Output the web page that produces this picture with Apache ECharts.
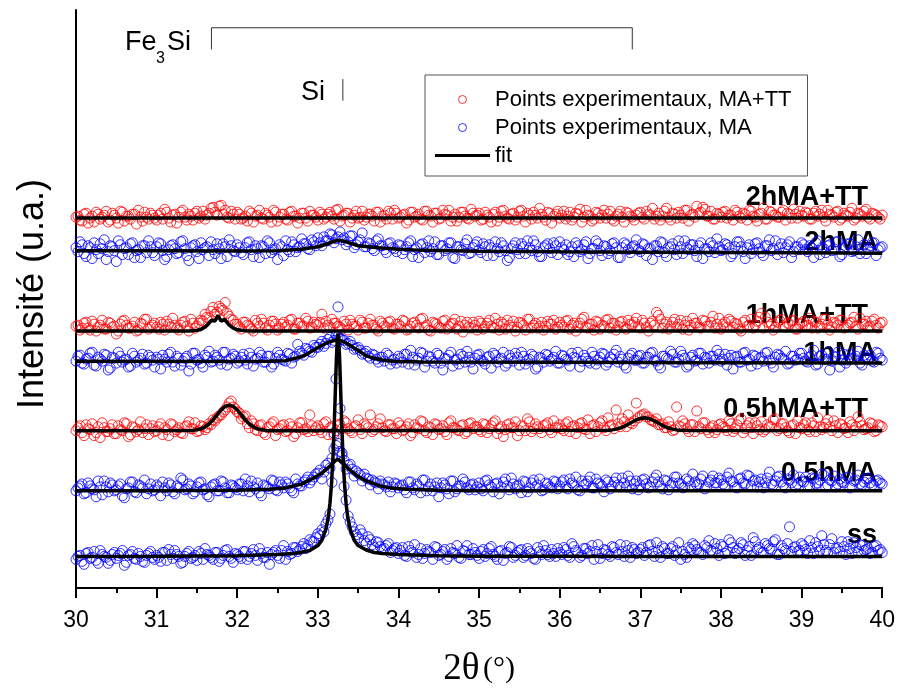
<!DOCTYPE html>
<html><head><meta charset="utf-8">
<script src="https://cdn.jsdelivr.net/npm/echarts@6/dist/echarts.min.js"></script>
<style>html,body{margin:0;padding:0;background:#fff}#c{width:898px;height:693px}</style>
</head><body><div id="c"></div>
<script>
// measurement grid (2theta, degrees): set A at 30.000 + 0.05 k, set B at 30.025 + 0.05 k
const thetaStartA = 30, thetaStartB = 30.025, thetaStep = 0.05;

// experimental points (arbitrary intensity units)
const pts2hTT_A = [24,21,27,18,25,29,22,26,19,28,23,30,20,25,27,17,24,29,22,26,
 21,28,32,23,26,18,29,24,27,21,30,25,22,28,34,26,36,31,23,27,
 29,22,25,30,19,26,23,28,24,31,20,27,22,29,25,18,28,23,30,26,
 21,27,24,29,22,32,25,28,19,26,23,30,24,27,20,29,25,22,28,31,
 23,26,18,29,24,27,21,30,25,28,22,31,26,20,27,24,29,23,32,25,
 28,22,26,19,29,24,31,23,27,21,30,25,28,22,26,33,24,29,18,27,
 23,30,25,21,28,32,24,26,20,29,23,31,27,22,25,30,19,28,24,26,
 29,22,27,33,25,21,30,24,28,23,26,31,20,27,35,29,32,25,22,28,
 24,30,26,21,29,23,27,31,25,20,28,22,30,26,24,29,21,27,32,23,
 26,29,22,28,25,31,20,27,24,30,23,26,29,21,28,25,32,22,27,24,26];
const pts2hTT_B = [25,20,28,23,19,27,24,30,21,26,18,29,25,22,27,31,20,24,28,23,
 26,22,29,19,27,24,31,21,25,28,23,30,26,33,29,35,27,24,30,22,
 27,23,20,28,25,31,22,26,19,29,24,27,21,30,25,23,28,20,26,24,
 29,22,27,25,31,20,26,28,23,30,24,21,27,25,29,19,26,30,22,28,
 24,27,21,29,25,22,30,26,19,28,23,27,31,24,20,29,25,22,28,26,
 21,29,24,27,20,30,25,22,28,24,31,19,26,29,23,27,21,28,25,30,
 26,22,29,24,27,19,31,25,22,28,26,23,30,20,27,24,29,25,21,28,
 24,30,26,22,28,25,33,21,27,29,23,31,26,24,28,34,25,30,22,27,
 29,23,26,31,25,28,21,30,24,27,33,22,29,26,24,31,28,23,27,30,
 25,28,22,30,27,24,31,26,29,21,28,25,33,23,27,30,24,28,26,22];
const pts2h_A = [28,34,22,30,17,26,32,36,24,29,14,31,27,21,33,25,18,30,35,23,
 29,32,16,26,31,22,34,27,15,30,24,33,28,20,26,32,17,29,36,25,
 31,23,28,34,19,27,30,22,33,26,16,29,35,24,31,28,37,32,26,34,
 38,30,35,42,33,39,36,31,40,28,34,43,29,32,25,37,30,23,33,27,
 31,22,29,35,26,18,32,28,24,34,21,30,27,33,17,29,25,36,23,31,
 26,32,20,28,34,24,30,15,27,33,22,29,35,25,31,19,28,32,23,30,
 34,26,21,29,33,24,31,17,27,35,25,30,22,32,28,18,33,26,29,36,
 24,31,27,16,30,34,23,28,32,21,29,35,26,31,19,33,27,24,30,37,
 25,32,28,22,34,29,17,31,26,33,23,30,36,27,21,32,28,34,24,29,
 33,26,30,18,35,28,23,31,27,34,21,29,32,25,36,28,22,30,33,26,29];
const pts2h_B = [24,31,19,28,33,22,27,16,30,25,35,21,28,32,18,26,30,23,29,20,
 33,25,19,30,27,23,35,20,28,31,17,26,29,34,22,27,32,19,30,24,
 28,21,33,26,30,18,29,35,23,27,31,20,26,34,24,29,32,27,36,30,
 33,39,35,41,37,44,38,34,40,31,36,29,33,27,35,30,26,32,28,24,
 30,26,33,19,28,31,23,35,27,21,30,25,33,18,29,26,32,22,28,34,
 23,29,31,20,27,33,25,18,30,26,32,22,28,35,24,19,30,27,33,21,
 28,31,24,19,30,26,34,22,27,32,20,29,25,33,18,28,31,23,30,26,
 32,20,27,30,24,33,19,29,26,35,22,28,31,25,30,17,27,33,23,29,
 26,31,19,29,34,24,28,22,32,27,20,30,25,35,28,23,31,18,29,26,
 31,24,28,33,21,27,30,25,34,19,28,32,24,29,22,31,26,33,20,28];
const pts1hTT_A = [26,22,29,24,31,21,27,23,30,25,18,28,32,24,26,21,29,33,23,27,
 25,30,22,28,34,24,27,31,21,29,26,32,38,34,45,40,44,50,36,32,
 28,23,30,26,21,29,33,24,27,31,22,28,25,32,23,29,26,34,24,30,
 27,38,31,25,29,26,23,28,32,26,22,30,24,33,27,21,29,25,31,23,
 28,32,22,26,30,24,34,27,21,29,25,31,23,28,33,26,20,30,24,27,
 31,23,29,26,34,22,28,32,25,21,30,27,33,24,29,26,22,31,28,23,
 30,25,32,27,21,29,35,24,28,31,23,26,33,29,22,30,25,32,27,34,
 24,29,21,31,40,33,28,23,30,25,32,27,22,34,29,24,31,26,36,28,
 23,30,33,25,28,21,32,27,24,31,39,35,26,22,30,33,25,28,32,23,
 29,26,34,31,24,28,33,22,30,27,32,25,29,35,23,28,31,26,33,24,30];
const pts1hTT_B = [27,24,30,22,28,25,32,23,29,26,21,31,27,24,30,22,28,33,25,29,
 23,28,31,25,27,22,30,26,33,24,29,31,35,41,38,46,42,39,33,28,
 25,30,27,23,32,26,29,22,31,28,24,30,27,33,23,29,26,31,25,28,
 30,24,27,33,29,25,31,22,28,26,32,24,29,27,23,31,26,30,24,28,
 26,31,23,29,27,33,25,22,30,28,24,32,26,29,23,31,27,25,30,22,
 29,26,32,24,28,30,23,27,31,25,29,22,33,27,24,30,26,28,32,25,
 27,31,23,29,26,33,25,28,22,30,27,32,24,29,26,31,23,28,30,26,
 32,25,29,27,37,24,30,26,33,28,23,31,27,29,25,32,26,30,24,34,
 28,25,31,29,23,30,26,33,27,35,24,30,28,25,32,26,29,31,23,28,
 31,27,24,30,26,33,28,25,29,32,24,27,30,26,34,28,25,31,27,29];
const pts1h_A = [25,31,22,28,34,20,27,32,16,29,23,30,26,19,33,24,28,22,31,26,
 29,17,27,32,24,30,21,28,15,33,26,23,31,35,25,29,22,34,27,32,
 23,29,26,33,20,28,31,24,30,22,34,27,25,32,29,42,33,38,35,41,
 39,45,43,49,46,50,47,42,45,37,39,32,35,28,31,24,29,33,22,27,
 30,24,32,36,21,28,33,25,29,23,31,16,27,34,26,22,30,35,24,28,
 32,25,29,18,31,27,34,23,28,33,21,30,26,32,17,29,24,31,27,35,
 23,30,26,33,28,19,31,25,34,22,29,32,24,27,36,30,21,28,33,26,
 31,23,29,34,25,18,30,27,32,24,35,28,21,31,26,33,29,23,30,36,
 25,32,28,17,30,24,34,27,31,22,29,33,26,19,32,28,35,23,30,27,
 33,25,29,36,22,31,27,16,30,34,26,23,32,28,35,21,29,31,24,33,26];
const pts1h_B = [30,23,27,33,21,29,25,31,18,28,34,24,27,20,30,26,32,23,29,19,
 27,31,24,34,20,28,25,30,22,33,27,19,29,24,31,26,34,21,28,30,
 25,32,22,29,27,34,24,30,19,28,31,26,33,23,30,35,31,37,34,39,
 42,40,47,44,51,48,46,43,41,38,36,33,30,32,27,29,25,31,26,23,
 28,32,22,29,26,34,19,30,25,33,23,28,31,20,27,32,24,29,17,31,
 26,22,30,33,24,28,20,31,25,29,34,22,27,30,19,28,32,25,29,23,
 31,27,20,29,34,25,28,23,30,26,33,21,29,32,24,27,18,31,26,30,
 23,29,33,26,21,30,28,35,24,27,31,19,29,25,33,22,28,30,26,32,
 27,21,31,29,24,33,26,20,30,28,25,34,23,29,31,27,22,30,26,33,
 28,24,31,21,30,27,34,25,29,19,32,26,28,30,23,31,27,25,34,28];
const pts05TT_A = [23,28,18,25,30,21,16,26,22,29,20,24,31,17,27,22,32,25,19,28,
 23,30,26,18,29,24,21,27,32,25,22,28,24,30,34,36,39,44,51,47,
 42,35,38,26,30,23,29,19,27,32,24,28,22,30,17,26,31,25,39,23,
 28,21,32,26,18,29,25,31,23,27,34,20,28,39,24,30,26,22,29,25,
 31,23,27,18,29,25,32,21,26,30,24,28,19,33,26,23,29,22,31,27,
 24,30,21,28,33,25,17,29,26,32,23,27,35,22,30,25,28,31,21,26,
 29,23,32,27,20,30,25,34,28,22,31,26,36,29,44,27,32,39,30,51,
 38,40,37,33,35,29,26,32,23,47,27,30,22,29,43,25,31,21,28,24,
 30,26,33,22,29,35,25,31,20,28,32,24,27,34,23,30,26,21,29,33,
 25,31,22,28,36,24,30,27,33,21,29,26,32,23,37,28,25,31,22,29,27];
const pts05TT_B = [26,21,29,24,18,27,31,22,25,20,28,23,30,19,26,24,21,29,25,22,
 27,19,24,30,22,26,20,28,25,31,23,27,26,29,33,38,42,47,53,45,
 41,37,30,33,24,28,21,26,30,18,25,29,23,27,20,31,24,22,28,26,
 24,30,19,27,23,29,33,25,21,28,24,30,26,22,27,35,23,29,25,20,
 28,24,30,21,26,33,23,27,19,29,25,22,31,26,24,28,20,30,25,27,
 22,29,25,31,20,27,24,30,26,18,28,23,32,25,27,21,29,24,33,26,
 25,30,22,28,26,31,24,20,29,27,33,23,28,25,30,35,27,31,33,36,
 39,37,34,32,29,30,26,27,24,28,33,25,29,22,27,31,24,26,21,29,
 27,23,30,25,33,21,28,26,31,24,22,29,27,35,25,30,23,28,20,26,
 29,24,31,22,27,26,34,23,28,30,25,21,29,27,32,24,26,30,23,28];
const pts05_A = [24,29,21,32,26,18,28,34,23,30,25,31,17,27,33,22,29,35,26,24,
 30,19,27,32,23,29,37,25,31,21,28,33,26,18,30,24,34,27,22,29,
 25,31,36,23,28,32,19,29,26,34,24,30,33,27,22,31,29,35,32,38,
 42,36,50,47,66,72,60,46,51,39,42,34,37,30,33,26,31,28,23,32,
 27,30,22,33,25,29,35,24,31,28,18,32,26,34,23,29,36,27,30,25,
 32,24,35,28,31,21,33,29,37,26,30,34,23,32,28,36,25,31,27,33,
 29,35,26,32,38,24,30,34,27,36,31,23,33,29,37,28,32,39,26,34,
 30,36,27,33,40,29,35,25,32,38,31,28,34,41,30,36,26,33,39,32,
 35,29,42,33,27,37,31,39,34,28,36,32,43,30,38,33,27,35,40,31,
 34,38,29,36,32,41,28,35,39,31,33,37,27,34,40,30,36,32,29,35,31];
const pts05_B = [27,31,22,29,25,34,20,28,32,24,29,19,26,33,23,30,27,21,31,25,
 28,33,24,30,21,27,35,26,29,23,32,25,20,28,31,24,33,22,30,27,
 31,24,29,34,26,22,30,28,35,25,33,27,31,24,36,29,33,38,35,41,
 45,43,52,57,70,64,55,50,46,44,40,41,36,35,32,34,30,33,28,31,
 29,25,33,27,31,22,35,28,24,32,27,30,21,34,26,29,33,25,31,28,
 26,34,30,23,32,28,36,25,31,29,22,33,27,35,30,24,32,28,34,26,
 33,28,36,30,25,34,31,38,27,32,29,35,26,33,30,37,28,34,31,25,
 35,31,28,37,33,26,34,30,38,32,27,36,29,33,31,39,28,35,32,37,
 31,38,34,28,36,32,40,29,35,33,27,37,31,34,39,30,36,32,28,38,
 33,29,37,31,35,40,30,34,28,36,32,38,29,35,31,33,37,30,34,32];
const ptsSS_A = [22,26,17,29,24,21,31,25,18,27,23,28,16,26,30,22,25,19,28,24,
 26,20,29,32,23,27,18,25,30,24,21,28,33,26,22,29,23,31,25,19,
 27,23,30,25,32,21,28,24,17,29,26,31,22,27,34,30,35,33,42,40,
 48,52,58,68,150,278,130,82,60,50,44,48,38,42,34,39,32,36,29,33,
 28,34,25,31,37,27,23,32,29,35,26,30,22,33,28,24,31,36,27,29,
 23,32,28,35,25,30,21,29,34,26,31,24,33,28,22,30,36,27,32,25,
 29,34,26,38,31,24,33,28,36,30,23,32,27,35,29,37,25,31,34,28,
 32,26,36,30,39,24,33,28,35,31,22,27,34,38,32,29,36,41,30,33,
 37,28,42,34,31,39,26,35,44,32,29,38,33,40,27,36,31,55,34,30,
 38,32,41,28,35,46,31,37,29,34,40,27,33,39,30,36,32,28,35,31,29];
const ptsSS_B = [25,20,28,23,30,18,27,24,21,29,26,31,19,27,23,28,20,26,30,22,
 24,29,21,27,31,25,19,28,23,26,30,22,27,24,29,20,26,32,23,28,
 25,30,22,28,26,33,24,29,27,31,23,36,30,28,34,32,38,36,40,44,
 46,50,62,100,205,175,96,66,55,47,52,41,45,37,40,35,33,38,31,34,
 31,26,35,29,24,33,28,30,22,34,27,32,25,29,36,23,30,27,33,26,
 30,25,33,27,22,31,28,35,24,29,32,26,30,23,34,27,31,25,28,33,
 27,32,24,35,29,26,33,30,22,37,28,31,25,34,27,30,36,24,32,29,
 34,29,37,25,31,35,28,33,26,39,30,24,32,36,29,27,34,31,38,26,
 35,30,39,28,33,37,31,26,40,34,29,36,32,42,27,33,38,30,35,31,
 36,28,34,39,31,37,29,43,33,30,35,40,28,34,37,31,33,29,36,32];

// fitted curves, [2theta, intensity] knots
const fit2hTT = [[30,23],[40,23]];
const fit2h = [[30,25],[31,24.8],[32,24.6],[32.5,25],[32.8,26.5],[33.0,29],[33.1,31.5],[33.18,34],[33.26,35.5],[33.35,34],[33.5,30],[33.75,28],[34.0,26.5],[34.3,25.3],[35,24.3],[36,23.8],[37,23.5],[38,23.2],[39,22.9],[40,22.5]];
const fit1hTT = [[30,21],[31.4,21],[31.5,21.8],[31.55,22.5],[31.6,25],[31.64,28],[31.68,32],[31.7,33],[31.72,31],[31.74,33.5],[31.76,37],[31.78,34],[31.8,31],[31.82,32.5],[31.84,33],[31.87,30],[31.9,27],[31.95,24],[32.0,22.3],[32.1,21.3],[32.2,21],[40,21]];
const fit1h = [[30,25],[32,24.6],[32.4,24.8],[32.6,25.5],[32.75,28.4],[32.85,31.4],[32.97,37.4],[33.06,41.4],[33.15,44.9],[33.24,46.4],[33.3,45.4],[33.35,43.4],[33.45,38.4],[33.51,35.4],[33.6,30.4],[33.72,27.4],[33.85,25.5],[34.0,24.7],[34.3,24.1],[36,23.8],[38,23.4],[40,23]];
const fit05TT = [[30,23],[31.45,23.3],[31.5,23.85],[31.55,24.9],[31.6,26.8],[31.65,29.8],[31.7,34],[31.75,39.1],[31.8,44],[31.85,47.6],[31.9,49],[31.95,47.6],[32.0,44],[32.05,39.1],[32.1,34],[32.15,29.8],[32.2,26.8],[32.25,24.9],[32.3,23.85],[32.35,23.3],[32.45,23.05],
 [36.6,23.4],[36.65,23.8],[36.7,24.6],[36.75,25.7],[36.8,27.4],[36.85,29.5],[36.9,31.8],[36.95,33.9],[37.0,35.4],[37.05,36],[37.1,35.4],[37.15,33.9],[37.2,31.8],[37.25,29.5],[37.3,27.4],[37.35,25.7],[37.4,24.6],[37.45,23.8],[37.5,23.4],[37.6,23.1],[40,23]];
const fit05 = [[30,24],[31,24.2],[32,24.5],[32.4,25.5],[32.6,27],[32.8,31],[32.95,37],[33.05,42],[33.15,49],[33.22,55],[33.25,56],[33.3,53],[33.4,45],[33.5,38.5],[33.6,34],[33.75,29.5],[33.9,27],[34.1,25.5],[34.5,24.6],[35,24.2],[40,24]];
const fitSS = [[30,25],[31,25.2],[32,25.7],[32.5,27],[32.7,28],[32.8,29.3],[32.9,31],[33.0,36],[33.05,41.5],[33.1,53],[33.13,65],[33.15,79],[33.17,99],[33.19,130],[33.2,151],[33.21,175],[33.22,201],[33.23,225],[33.24,244],[33.25,251],[33.26,244],[33.27,225],[33.28,201],[33.29,175],[33.3,151],[33.31,130],[33.33,99],[33.35,79],[33.37,65],[33.4,53],[33.45,41.5],[33.5,36],[33.6,31.5],[33.7,29],[33.8,28],[34.0,27],[34.5,25.8],[35,25.3],[36,25.1],[37,25],[38,25],[39,25],[40,25]];

// pattern names and vertical stacking offsets (as in the original stacked plot)
const sampleNames = ['2hMA+TT','2hMA','1hMA+TT','1hMA','0.5hMA+TT','0.5hMA','ss'];
const sampleKind  = ['TT','MA','TT','MA','TT','MA','MA'];
const stackShift  = [352, 317, 239.5, 205, 136.5, 74.5, 7];
const pointSetsA = [pts2hTT_A, pts2h_A, pts1hTT_A, pts1h_A, pts05TT_A, pts05_A, ptsSS_A];
const pointSetsB = [pts2hTT_B, pts2h_B, pts1hTT_B, pts1h_B, pts05TT_B, pts05_B, ptsSS_B];
const fitSets   = [fit2hTT, fit2h, fit1hTT, fit1h, fit05TT, fit05, fitSS];

// reference reflections
const fe3siPeaks = [31.68, 36.9];
const siPeaks = [33.31];

const legendTT = 'Points experimentaux, MA+TT';
const legendMA = 'Points experimentaux, MA';
const legendFit = 'fit';

const thetaA = ptsSS_A.map((_, i) => +(thetaStartA + i * thetaStep).toFixed(3));
const thetaB = ptsSS_B.map((_, i) => +(thetaStartB + i * thetaStep).toFixed(3));

const FONT = 'Liberation Sans';
const series = [];
pointSetsA.forEach((ptsA, k) => {
  const red = sampleKind[k] === 'TT';
  const ptsB = pointSetsB[k];
  const data = [];
  thetaA.forEach((x, i) => data.push([x, ptsA[i] + stackShift[k]]));
  thetaB.forEach((x, i) => data.push([x, ptsB[i] + stackShift[k]]));
  series.push({
    type: 'scatter', name: red ? legendTT : legendMA,
    data: data,
    symbol: 'circle', symbolSize: 10, silent: true,
    itemStyle: { color: 'rgba(0,0,0,0)', borderColor: red ? '#ff0000' : '#0000ff', borderWidth: 1 },
    z: 2
  });
});
fitSets.forEach((fit, k) => {
  series.push({
    type: 'line', name: legendFit, showSymbol: false, symbol: 'none', silent: true,
    data: fit.map(([x, y]) => [x, y + stackShift[k]]),
    lineStyle: { color: '#000', width: 3.5 }, itemStyle: { color: '#000' }, z: 3
  });
});
// reference bars
series.push({
  type: 'line', silent: true, symbol: 'none', z: 3,
  data: [[fe3siPeaks[0], 546], [fe3siPeaks[0], 568], [fe3siPeaks[1], 568], [fe3siPeaks[1], 546]],
  lineStyle: { color: '#333', width: 1 }
});
series.push({
  type: 'line', silent: true, symbol: 'none', z: 3,
  data: [[siPeaks[0], 494], [siPeaks[0], 516]],
  lineStyle: { color: '#333', width: 1 }
});

const labelLayout = [[868,207],[878,252],[868,325],[877,363],[868,419],[877,483],[877,545]];
const graphics = sampleNames.map((t, k) => ({
  type: 'text', x: labelLayout[k][0], y: labelLayout[k][1] - 9, silent: true,
  style: { text: t, font: 'bold 27px "' + FONT + '"', fill: '#000', textAlign: 'right', textVerticalAlign: 'middle' }
}));
graphics.push(
  { type: 'text', x: 125, y: 43, silent: true, style: { text: 'Fe', font: '27px "' + FONT + '"', fill: '#000', textAlign: 'left', textVerticalAlign: 'middle' } },
  { type: 'text', x: 156, y: 59, silent: true, style: { text: '3', font: '16px "' + FONT + '"', fill: '#000', textAlign: 'left', textVerticalAlign: 'middle' } },
  { type: 'text', x: 167, y: 43, silent: true, style: { text: 'Si', font: '27px "' + FONT + '"', fill: '#000', textAlign: 'left', textVerticalAlign: 'middle' } },
  { type: 'text', x: 301, y: 93, silent: true, style: { text: 'Si', font: '27px "' + FONT + '"', fill: '#000', textAlign: 'left', textVerticalAlign: 'middle' } },
  { type: 'text', x: 33, y: 294, rotation: Math.PI / 2, silent: true,
    style: { text: 'Intensité (u.a.)', font: '36px "' + FONT + '"', fill: '#000', textAlign: 'center', textVerticalAlign: 'middle' } }
);

const chart = echarts.init(document.getElementById('c'), null, { renderer: 'canvas' });
chart.setOption({
  animation: false,
  backgroundColor: '#fff',
  grid: { left: 76, right: 15, top: 10, bottom: 97 },
  legend: {
    left: 425, top: 75, orient: 'vertical',
    itemWidth: 55, itemHeight: 8, itemGap: 3,
    padding: [12, 16, 8, 10],
    borderColor: '#555', borderWidth: 1,
    textStyle: { fontSize: 22, fontFamily: FONT, color: '#000', lineHeight: 25 },
    selectedMode: false,
    data: [
      { name: legendTT, icon: 'circle', itemStyle: { color: 'rgba(0,0,0,0)', borderColor: '#ff0000', borderWidth: 1 } },
      { name: legendMA, icon: 'circle', itemStyle: { color: 'rgba(0,0,0,0)', borderColor: '#0000ff', borderWidth: 1 } },
      { name: legendFit, icon: 'path://M0,0L55,0L55,3L0,3Z', itemStyle: { color: '#000', borderWidth: 0 } }
    ]
  },
  xAxis: {
    type: 'value', min: 30, max: 40, interval: 1,
    name: '{a|2θ} {b|(°)}', nameLocation: 'middle', nameGap: 63,
    nameTextStyle: { rich: { a: { fontSize: 37, fontFamily: 'Liberation Serif', color: '#000' }, b: { fontSize: 30, fontFamily: 'Liberation Serif', color: '#000' } } },
    axisLine: { show: true, onZero: false, lineStyle: { color: '#000', width: 2 } },
    axisTick: { show: true, length: 10, lineStyle: { color: '#000', width: 2 } },
    minorTick: { show: true, splitNumber: 2, length: 5, lineStyle: { color: '#000', width: 2 } },
    axisLabel: { fontSize: 23, fontFamily: FONT, color: '#000', margin: 21 },
    splitLine: { show: false }
  },
  yAxis: {
    type: 'value', min: 0, max: 586,
    axisLine: { show: true, onZero: false, lineStyle: { color: '#000', width: 2 } },
    axisTick: { show: false }, axisLabel: { show: false }, splitLine: { show: false }
  },
  series: series,
  graphic: graphics
});
</script></body></html>
